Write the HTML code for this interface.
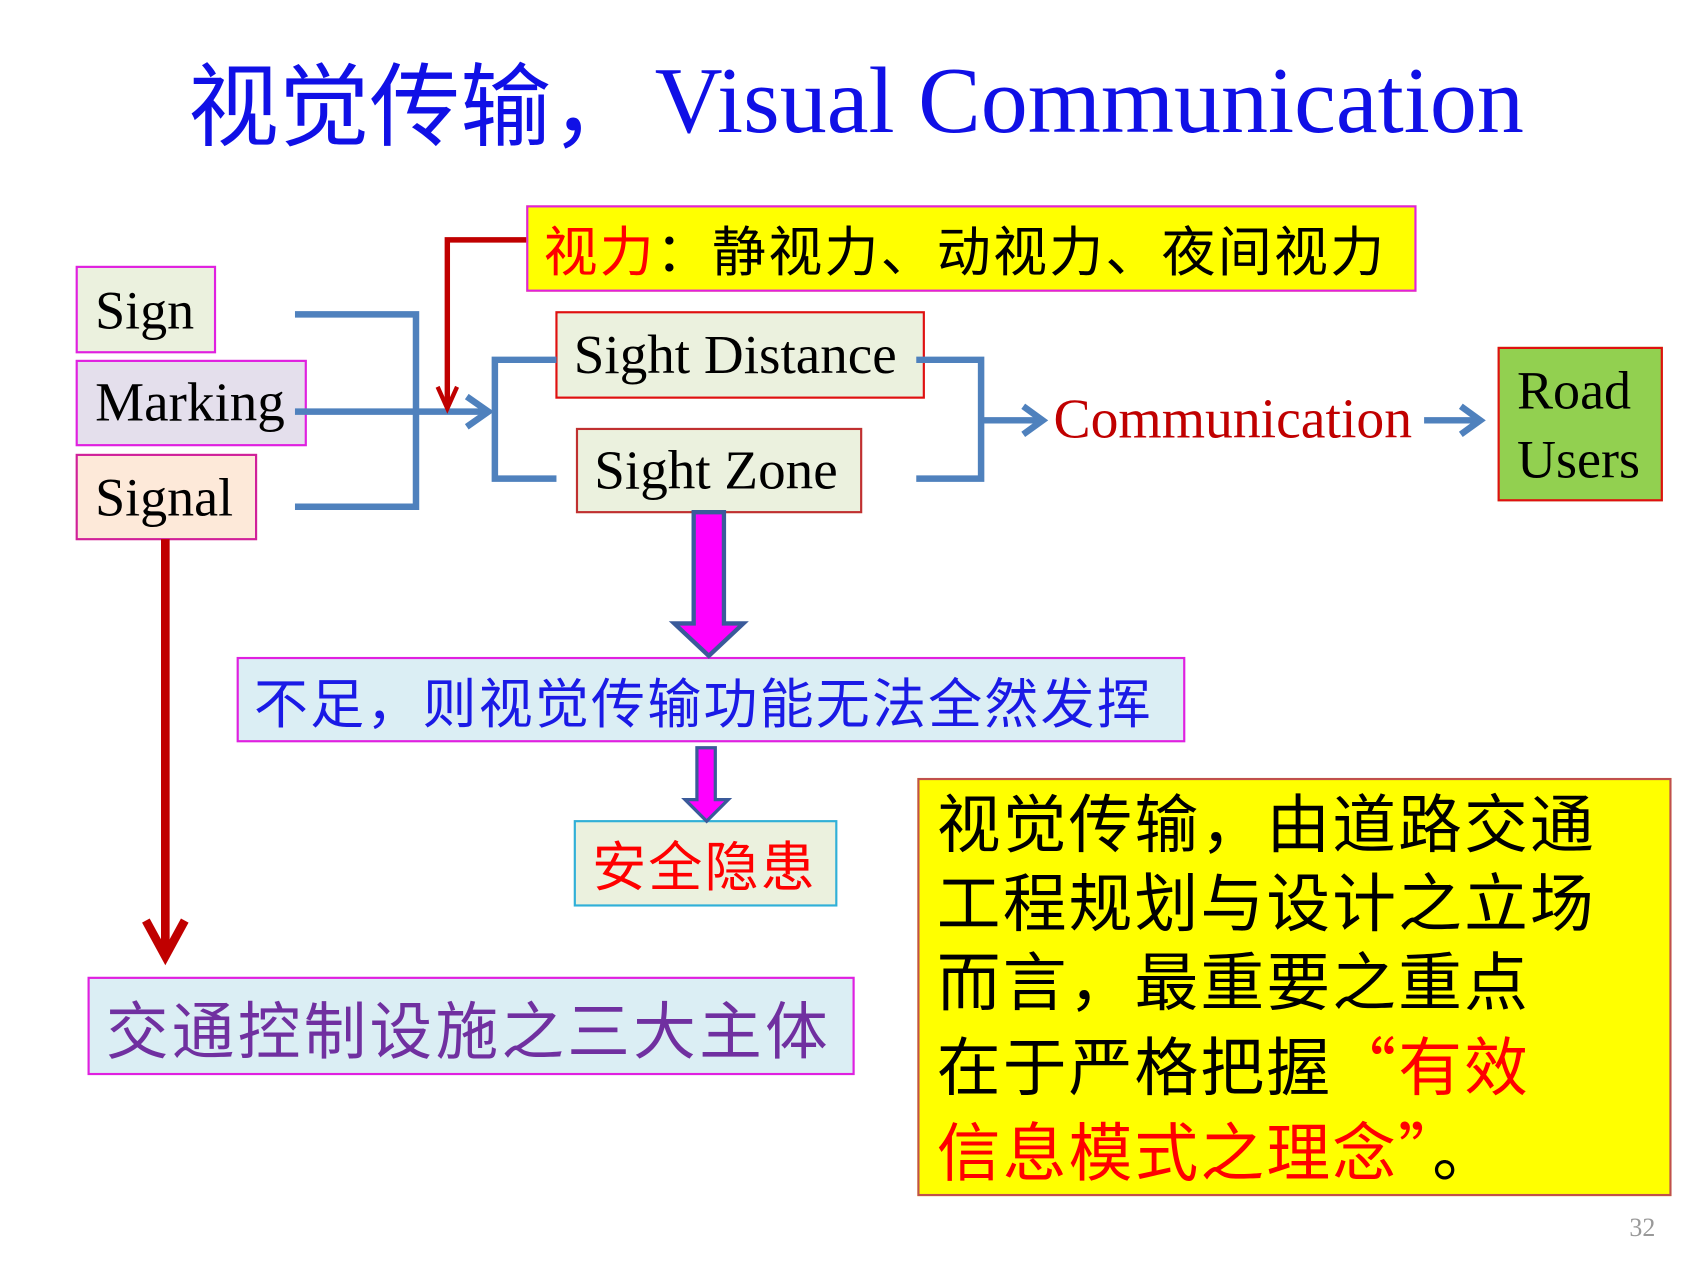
<!DOCTYPE html>
<html><head><meta charset="utf-8"><style>
body{margin:0;width:1693px;height:1265px;overflow:hidden;background:#fff}
#c{position:absolute;left:0;top:0;width:1560px;height:1166px;transform:scale(1.0805);transform-origin:0 0}
.b{position:absolute;box-sizing:border-box;display:flex;align-items:center;white-space:nowrap}
.s{font-family:"Liberation Serif",serif}
.z{font-family:"Liberation Sans","Noto Sans CJK SC",sans-serif}
.q{font-family:"Noto Sans CJK SC",sans-serif}
svg{position:absolute;left:0;top:0}
</style></head><body><div id="c">
<div class="b" style="left:174px;top:40px;height:105px;color:#1010e6;font-size:84px"><span class="z">视觉传输，</span><span class="s" style="margin-left:12px;font-size:87px">Visual Communication</span></div>

<div class="b z" style="left:487px;top:190px;width:824px;height:80px;background:#ffff00;border:2px solid #e020e0;font-size:50px;letter-spacing:2px;padding-left:14px"><span style="color:#f00">视力</span>：静视力、动视力、夜间视力</div>

<div class="b s" style="left:70px;top:246px;width:130px;height:81px;background:#ebf1de;border:2px solid #e020e0;font-size:50px;padding-left:16px">Sign</div>
<div class="b s" style="left:70px;top:333px;width:214px;height:80px;background:#e4dfec;border:2px solid #e020e0;font-size:51px;padding-left:16px">Marking</div>
<div class="b s" style="left:70px;top:420px;width:168px;height:80px;background:#fde9d9;border:2px solid #d0209a;font-size:50px;padding-left:16px">Signal</div>

<div class="b s" style="left:514px;top:288px;width:342px;height:81px;background:#ebf1de;border:2px solid #e01010;font-size:51px;padding-left:15px">Sight Distance</div>
<div class="b s" style="left:533px;top:396px;width:265px;height:79px;background:#ebf1de;border:2px solid #c03030;font-size:51px;padding-left:15px">Sight Zone</div>

<div class="b s" style="left:975px;top:355px;height:66px;color:#c00000;font-size:51.5px">Communication</div>
<div class="b s" style="left:1386px;top:321px;width:153px;height:143px;background:#92d050;border:2px solid #e01010;font-size:50px;padding-left:16px;line-height:64px;white-space:normal;align-items:center">Road Users</div>

<div class="b z" style="left:219px;top:608px;width:878px;height:79px;background:#dbeef4;border:2px solid #e020e0;font-size:50px;letter-spacing:2px;color:#1a1ae6;padding-left:14px">不足，则视觉传输功能无法全然发挥</div>
<div class="b z" style="left:531px;top:759px;width:244px;height:80px;background:#ebf1de;border:2px solid #30b0d8;font-size:50px;letter-spacing:2px;color:#f00;padding-left:15px">安全隐患</div>
<div class="b z" style="left:81px;top:904px;width:710px;height:91px;background:#dbeef4;border:2px solid #e020e0;font-size:58px;letter-spacing:3px;color:#7030a0;padding-left:15px">交通控制设施之三大主体</div>

<div class="b z" style="left:849px;top:720px;width:698px;height:387px;background:#ffff00;border:2px solid #c0504d;font-size:59px;letter-spacing:2px;padding:6px 0 0 16px;line-height:73px;white-space:normal;display:block">视觉传输，由道路交通<br>工程规划与设计之立场<br>而言，最重要之重点<br>在于严格把握<span style="color:#f00"><span class="q">“</span>有效<br>信息模式之理念<span class="q">”</span></span>。</div>

<div class="b s" style="left:1508px;top:1124px;color:#999;font-size:24px">32</div>

<svg width="1560" height="1166" viewBox="0 0 1560 1166">
<g fill="none" stroke="#4f81bd" stroke-width="6">
<polyline points="273,291 385,291 385,469 273,469"/>
<line x1="273" y1="381" x2="452" y2="381"/>
<polyline points="432,367 452,381 432,395"/>
<polyline points="515,333 458,333 458,443 515,443"/>
<polyline points="848,333 908,333 908,443 848,443"/>
<line x1="908" y1="389" x2="965" y2="389"/>
<polyline points="947,376 965,389 947,402"/>
<line x1="1318" y1="389" x2="1370" y2="389"/>
<polyline points="1352,376 1370,389 1352,402"/>
</g>
<polyline points="487,222 414,222 414,374" fill="none" stroke="#c00000" stroke-width="5"/>
<polyline points="405,358 414,378 423,358" fill="none" stroke="#c00000" stroke-width="4"/>
<line x1="153" y1="499" x2="153" y2="885" stroke="#c00000" stroke-width="8"/>
<polyline points="135,852 153,885 171,852" fill="none" stroke="#c00000" stroke-width="8"/>
<polygon points="642,474 670,474 670,577 688,577 656,607 624,577 642,577" fill="#ff00ff" stroke="#3a5a9a" stroke-width="4"/>
<polygon points="645,692 662,692 662,740 674,740 654,760 634,740 645,740" fill="#ff00ff" stroke="#3a5a9a" stroke-width="3"/>
</svg>
</div></body></html>
